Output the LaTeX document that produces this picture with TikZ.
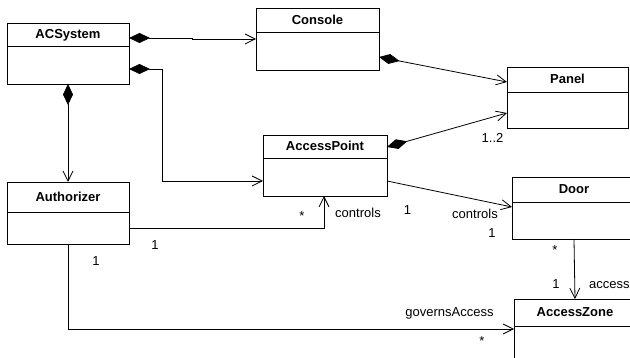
\documentclass[tikz,border=0pt]{standalone}
\usepackage{fontspec}
\setmainfont{Liberation Sans}
\usetikzlibrary{arrows.meta,calc}
\begin{document}
\begin{tikzpicture}[x=1pt,y=-1pt,
  cls/.style={draw, line width=0.9pt, rectangle, inner sep=0pt, outer sep=0pt, anchor=north west},
  ttl/.style={font=\fontsize{13}{15}\selectfont\bfseries, inner sep=0pt, anchor=base},
  lbl/.style={font=\fontsize{13}{15}\selectfont, inner sep=0pt, anchor=base},
  divider/.style={line width=0.9pt},
  assoc/.style={line width=0.8pt, -{Straight Barb[length=10pt,width=10pt]}},
  comp/.style={line width=0.8pt, {Diamond[length=21pt,width=10pt]}-{Straight Barb[length=10pt,width=10pt]}},
]
\useasboundingbox (0,0) rectangle (630,358);
\clip (0,0) rectangle (630,358);

% classes
\node[cls, minimum width=122pt, minimum height=61pt] (acs) at (7,23) {};
\node[ttl] (acsT) at ($(acs.north)+(0,16)$) {ACSystem};
\draw[divider] ($(acs.north west)+(0,23)$) -- ($(acs.north east)+(0,23)$);

\node[cls, minimum width=123pt, minimum height=62pt] (console) at (256,8) {};
\node[ttl] (consoleT) at ($(console.north)+(0,16.5)$) {Console};
\draw[divider] ($(console.north west)+(0,24)$) -- ($(console.north east)+(0,24)$);

\node[cls, minimum width=121pt, minimum height=61pt] (panel) at (507,67) {};
\node[ttl] (panelT) at ($(panel.north)+(0,17)$) {Panel};
\draw[divider] ($(panel.north west)+(0,25)$) -- ($(panel.north east)+(0,25)$);

\node[cls, minimum width=124pt, minimum height=61pt] (ap) at (263,135) {};
\node[ttl] (apT) at ($(ap.north)+(0,16)$) {AccessPoint};
\draw[divider] ($(ap.north west)+(0,23)$) -- ($(ap.north east)+(0,23)$);

\node[cls, minimum width=122pt, minimum height=62pt] (auth) at (7,182) {};
\node[ttl] (authT) at ($(auth.north)+(0,19.5)$) {Authorizer};
\draw[divider] ($(auth.north west)+(0,30)$) -- ($(auth.north east)+(0,30)$);

\node[cls, minimum width=124pt, minimum height=62pt] (door) at (512,177) {};
\node[ttl] (doorT) at ($(door.north)+(0,17)$) {Door};
\draw[divider] ($(door.north west)+(0,25)$) -- ($(door.north east)+(0,25)$);

\node[cls, minimum width=122pt, minimum height=70pt] (az) at (514,299) {};
\node[ttl] (azT) at ($(az.north)+(0,18)$) {AccessZone};
\draw[divider] ($(az.north west)+(0,27)$) -- ($(az.north east)+(0,27)$);

% connectors
\draw[comp] ($(acs.north east)+(0,15)$) -- ++(63,0) -- ++(0,1) -- ($(console.north west)+(0,31)$);
\draw[comp] ($(acs.north east)+(0,46)$) -- ++(33,0) |- ($(ap.north west)+(0,46)$);
\draw[comp] (acs.south) -- (auth.north);
\draw[comp] ($(console.north east)+(0,49)$) -- ($(panel.north west)+(0,15)$);
\draw[comp] ($(ap.north east)+(0,12)$) -- ($(panel.north west)+(0,46)$);
\draw[assoc] ($(auth.north east)+(0,46)$) -| ($(ap.south west)+(61,0)$);
\draw[assoc] ($(ap.north east)+(0,46)$) -- ($(door.north west)+(0,30)$);
\draw[assoc] ($(door.south west)+(62,0)$) -- ($(az.north west)+(61,0)$);
\draw[assoc] (auth.south) |- ($(az.north west)+(0,30)$);

% labels
\node[lbl] (l12) at (492.5,143) {1..2};
\node[lbl] (lst1) at (302,221) {*};
\node[lbl] (lctl1) at (358,217.5) {controls};
\node[lbl] (lone1) at (407.5,214.5) {1};
\node[lbl] (lone2) at (155,250) {1};
\node[lbl] (lone3) at (96,266) {1};
\node[lbl] (lctl2) at (475,219) {controls};
\node[lbl] (lone4) at (492,238) {1};
\node[lbl] (lst2) at (555,255) {*};
\node[lbl] (lone5) at (556,289) {1};
\node[lbl, anchor=base west] (lacc) at (589,289) {access};
\node[lbl] (lgov) at (449.5,317) {governsAccess};
\node[lbl] (lst3) at (482,346) {*};
\end{tikzpicture}
\end{document}
